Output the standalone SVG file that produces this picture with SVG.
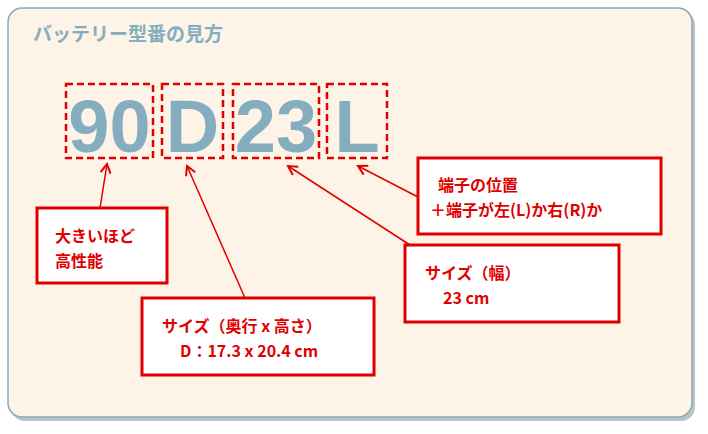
<svg xmlns="http://www.w3.org/2000/svg" width="708" height="434" viewBox="0 0 708 434">
<defs>
<marker id="ah" markerWidth="12" markerHeight="12" refX="10" refY="6" orient="auto" markerUnits="userSpaceOnUse">
<path d="M1,1 L10,6 L1,11" fill="none" stroke="#e00000" stroke-width="2"/>
</marker>
</defs>
<style>
.big{font-family:"Liberation Sans",Arial,sans-serif;font-weight:bold;font-size:74px;fill:#84aec0}
.dash{fill:none;stroke:#e00000;stroke-width:2.5;stroke-dasharray:7,4}
.lbl{fill:#fff;stroke:#e00000;stroke-width:3}
.t{font-family:"Noto Sans CJK JP","Liberation Sans",sans-serif;font-weight:bold;font-size:16px;fill:#e00000}
.c{stroke:#e00000;stroke-width:1.5;fill:none;marker-end:url(#ah)}
</style>
<rect x="11" y="11" width="684" height="410" rx="14" fill="#b8c4c8"/>
<rect x="8" y="8" width="684" height="409" rx="14" fill="#fdf3e6" stroke="#8aaab8" stroke-width="1.5"/>
<text x="33" y="41" font-family="Noto Sans CJK JP,sans-serif" font-weight="bold" font-size="19" fill="#84aec0">バッテリー型番の見方</text>
<g id="code">
<rect class="dash" x="66" y="84" width="87" height="74"/>
<rect class="dash" x="162" y="84" width="61" height="74"/>
<rect class="dash" x="233" y="84" width="86" height="74"/>
<rect class="dash" x="327" y="84" width="60" height="74"/>
<text class="big" x="109.5" y="152" text-anchor="middle">90</text>
<text class="big" x="192.5" y="152" text-anchor="middle">D</text>
<text class="big" x="276" y="152" text-anchor="middle">23</text>
<text class="big" x="357" y="152" text-anchor="middle">L</text>
</g>
<g id="connectors">
<line class="c" x1="100" y1="208" x2="107" y2="164"/>
<line class="c" x1="245" y1="298" x2="187" y2="166"/>
<line class="c" x1="410" y1="245" x2="288" y2="166"/>
<line class="c" x1="418" y1="197" x2="358" y2="166"/>
</g>
<g id="n1"><rect class="lbl" x="37" y="208" width="130" height="75"/>
<text class="t" x="55" y="242">大きいほど</text><text class="t" x="55" y="267">高性能</text></g>
<g id="n2"><rect class="lbl" x="142" y="298" width="232" height="77"/>
<text class="t" x="162" y="332">サイズ（奥行 x 高さ）</text><text class="t" x="180" y="357">D：17.3 x 20.4 cm</text></g>
<g id="n3"><rect class="lbl" x="405" y="245" width="214" height="77"/>
<text class="t" x="425" y="279">サイズ（幅）</text><text class="t" x="443" y="304">23 cm</text></g>
<g id="n4"><rect class="lbl" x="418" y="158" width="243" height="76"/>
<text class="t" x="438" y="191">端子の位置</text><text class="t" x="430" y="216">＋端子が左(L)か右(R)か</text></g>
</svg>
